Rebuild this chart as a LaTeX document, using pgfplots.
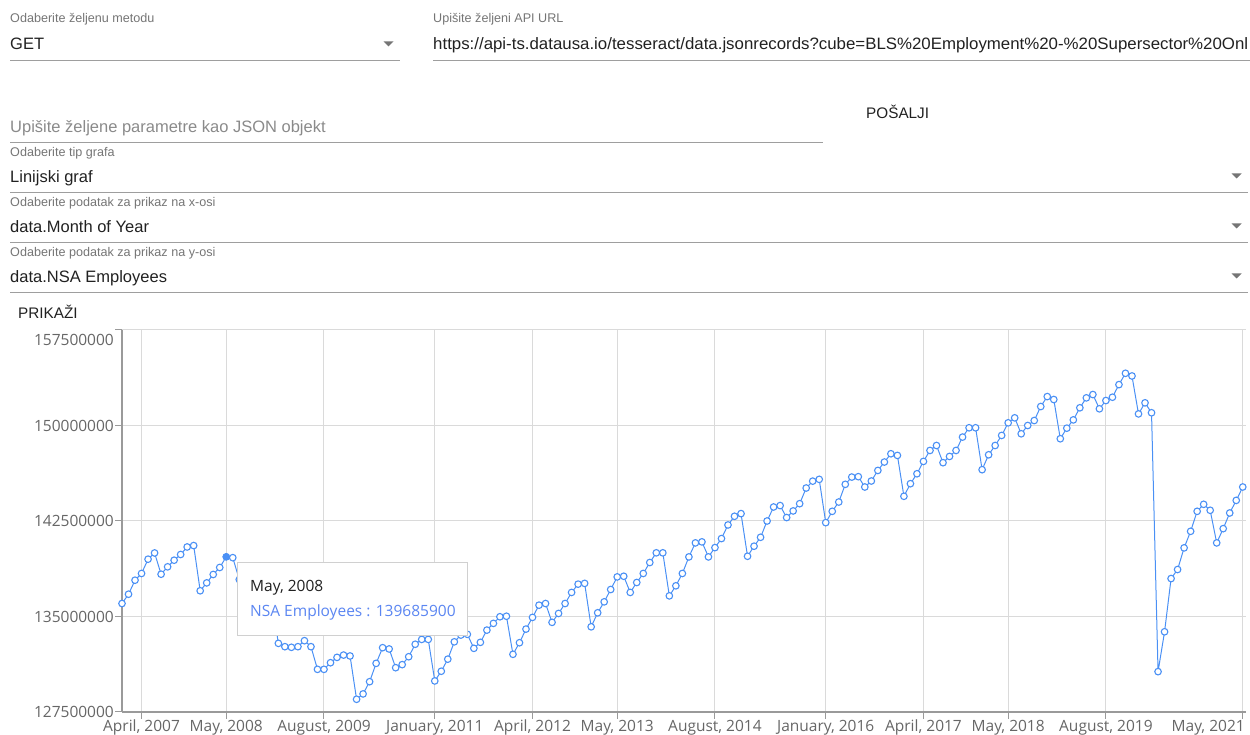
\documentclass[border=0pt]{standalone}
\usepackage{fontspec}
\setmainfont{Liberation Sans}
\newfontfamily\chartfont{Open Sans}
\usepackage{graphicx}
\usepackage{pgfplots}
\pgfplotsset{compat=1.18}
\usepackage{pgfplotstable}
\definecolor{lblgrey}{HTML}{757575}
\definecolor{dark}{HTML}{212121}
\definecolor{phgrey}{HTML}{8A8A8A}
\definecolor{ulgrey}{HTML}{9E9E9E}
\definecolor{tickgrey}{HTML}{666666}
\definecolor{axisgrey}{HTML}{9A9A9A}
\definecolor{gridgrey}{HTML}{DADADA}
\definecolor{lineblue}{HTML}{4A90F5}
\definecolor{tipblue}{HTML}{5B86F2}
\definecolor{tipborder}{HTML}{D0D0D0}
\newcommand{\fs}[1]{\fontsize{#1}{#1}\selectfont}

\pgfplotstableread{
m y
0 136020000
1 136750000
2 137850000
3 138380000
4 139500000
5 139990000
6 138320000
7 138900000
8 139420000
9 139870000
10 140460000
11 140570000
12 137020000
13 137640000
14 138300000
15 138850000
16 139685900
17 139620000
18 137900000
19 137550000
20 137450000
21 137550000
22 136950000
23 136200000
24 132890000
25 132630000
26 132580000
27 132630000
28 133100000
29 132630000
30 130850000
31 130850000
32 131370000
33 131790000
34 131970000
35 131900000
36 128500000
37 128920000
38 129880000
39 131320000
40 132550000
41 132450000
42 130980000
43 131220000
44 131840000
45 132820000
46 133200000
47 133200000
48 129940000
49 130700000
50 131650000
51 133010000
52 133540000
53 133600000
54 132500000
55 132970000
56 133930000
57 134460000
58 134980000
59 135020000
60 132030000
61 132940000
62 134010000
63 134930000
64 135890000
65 136020000
66 134540000
67 135240000
68 136020000
69 136890000
70 137540000
71 137600000
72 134190000
73 135290000
74 136150000
75 137120000
76 138110000
77 138160000
78 136890000
79 137670000
80 138380000
81 139240000
82 140000000
83 140000000
84 136620000
85 137410000
86 138380000
87 139680000
88 140780000
89 140860000
90 139680000
91 140410000
92 141120000
93 142190000
94 142870000
95 143080000
96 139730000
97 140520000
98 141220000
99 142500000
100 143600000
101 143710000
102 142770000
103 143290000
104 143860000
105 145090000
106 145630000
107 145770000
108 142370000
109 143260000
110 143990000
111 145380000
112 145950000
113 145980000
114 145170000
115 145640000
116 146470000
117 147130000
118 147780000
119 147650000
120 144440000
121 145430000
122 146210000
123 147180000
124 148040000
125 148430000
126 147080000
127 147570000
128 148040000
129 149090000
130 149820000
131 149820000
132 146530000
133 147700000
134 148430000
135 149220000
136 150210000
137 150600000
138 149350000
139 150000000
140 150390000
141 151490000
142 152270000
143 152040000
144 148960000
145 149790000
146 150440000
147 151390000
148 152170000
149 152430000
150 151310000
151 151960000
152 152220000
153 153210000
154 154100000
155 153890000
156 150910000
157 151780000
158 151000000
159 130670000
160 133800000
161 137980000
162 138690000
163 140390000
164 141690000
165 143260000
166 143810000
167 143340000
168 140780000
169 141900000
170 143130000
171 144120000
172 145170000
}\nsadata

\begin{document}
\begin{tikzpicture}
\path[use as bounding box] (0,0) rectangle (1250pt,735pt);
% ---------- form (y measured from the top) ----------
\begin{scope}[x=1pt,y=-1pt,yshift=735pt]
\node[anchor=base west,inner sep=0,text=lblgrey] at (10,22.5) {\fs{12.6}Odaberite željenu metodu};
\node[anchor=base west,inner sep=0,text=dark] at (10,49.2) {\fs{16.5}GET};
\fill[lblgrey] (383.5,41.5) -- (393.5,41.5) -- (388.5,46.5) -- cycle;
\draw[ulgrey,line width=1.2pt] (10,60.5) -- (400,60.5);

\node[anchor=base west,inner sep=0,text=lblgrey] at (433,22.5) {\fs{12.6}Upišite željeni API URL};
\node[anchor=base west,inner sep=0,text=dark] at (433,49.2) {\resizebox{815pt}{\height}{\fs{16.5}https://api-ts.datausa.io/tesseract/data.jsonrecords?cube=BLS\%20Employment\%20-\%20Supersector\%20Onl}};
\draw[ulgrey,line width=1.2pt] (433,60.5) -- (1250,60.5);

\node[anchor=base west,inner sep=0,text=phgrey] at (10,132.7) {\fs{16.5}Upišite željene parametre kao JSON objekt};
\draw[ulgrey,line width=1.2pt] (10,142.5) -- (823,142.5);
\node[anchor=base west,inner sep=0,text=dark] at (866,118.3) {\fs{15.3}POŠALJI};

\node[anchor=base west,inner sep=0,text=lblgrey] at (10,156.2) {\fs{12.6}Odaberite tip grafa};
\node[anchor=base west,inner sep=0,text=dark] at (10,182.6) {\fs{16.5}Linijski graf};
\fill[lblgrey] (1231.5,173.5) -- (1241.5,173.5) -- (1236.5,178.5) -- cycle;
\draw[ulgrey,line width=1.2pt] (10,192.5) -- (1248,192.5);

\node[anchor=base west,inner sep=0,text=lblgrey] at (10,206.2) {\fs{12.6}Odaberite podatak za prikaz na x-osi};
\node[anchor=base west,inner sep=0,text=dark] at (10,232.6) {\fs{16.5}data.Month of Year};
\fill[lblgrey] (1231.5,223.5) -- (1241.5,223.5) -- (1236.5,228.5) -- cycle;
\draw[ulgrey,line width=1.2pt] (10,242.5) -- (1248,242.5);

\node[anchor=base west,inner sep=0,text=lblgrey] at (10,256.2) {\fs{12.6}Odaberite podatak za prikaz na y-osi};
\node[anchor=base west,inner sep=0,text=dark] at (10,282.2) {\fs{16.5}data.NSA Employees};
\fill[lblgrey] (1231.5,273.5) -- (1241.5,273.5) -- (1236.5,278.5) -- cycle;
\draw[ulgrey,line width=1.2pt] (10,292.5) -- (1248,292.5);

\node[anchor=base west,inner sep=0,text=dark] at (18,318.6) {\fs{15.3}PRIKAŽI};
\end{scope}

% ---------- chart ----------
\begin{axis}[
  at={(122pt,23pt)}, anchor=south west,
  scale only axis, width=1124pt, height=382pt,
  xmin=0, xmax=172.5,
  ymin=127500000, ymax=157500000,
  axis lines=left,
  axis line style={-, color=axisgrey, line width=1.4pt},
  grid=major,
  major grid style={gridgrey, line width=1pt},
  tick align=outside,
  major tick length=7pt,
  tick style={axisgrey, line width=1pt},
  scaled y ticks=false,
  xtick={3,16,31,48,63,76,91,108,123,136,151,172},
  xticklabels={{April, 2007},{May, 2008},{August, 2009},{January, 2011},{April, 2012},{May, 2013},{August, 2014},{January, 2016},{April, 2017},{May, 2018},{August, 2019},{\makebox[0pt][r]{May, 2021\hspace{-2pt}}}},
  ytick={127500000,135000000,142500000,150000000,157500000},
  yticklabels={127500000,135000000,142500000,150000000,\raisebox{-10pt}[\height][\depth]{157500000}},
  tick label style={font=\chartfont\fs{15.5}, text=tickgrey},
  yticklabel style={inner sep=1pt},
  xticklabel style={inner sep=1pt},
  clip=false,
]
\addplot[color=lineblue, line width=1pt, mark=*, mark size=3.3pt,
  mark options={fill=white, draw=lineblue, line width=1.1pt}]
  table[x=m, y=y] {\nsadata};
\addplot[only marks, mark=*, mark size=3.3pt, color=lineblue,
  mark options={fill=lineblue, draw=lineblue}]
  coordinates {(16,139685900)};
\end{axis}

% ---------- tooltip ----------
\begin{scope}[x=1pt,y=-1pt,yshift=735pt]
\draw[draw=tipborder, fill=white, line width=1pt] (237,563) rectangle (467,636);
\node[anchor=base west,inner sep=0,text=dark] at (250,591.5) {\chartfont\fs{15.5}May, 2008};
\node[anchor=base west,inner sep=0,text=tipblue] at (250,616.5) {\chartfont\fs{15.5}NSA Employees : 139685900};
\end{scope}
\end{tikzpicture}
\end{document}
